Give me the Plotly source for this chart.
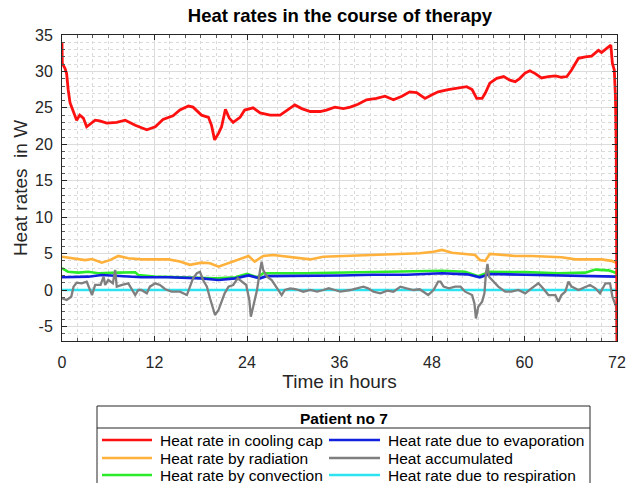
import plotly.graph_objects as go

# ---------------- data ----------------
t_cap = [0, 0.04, 0.4, 0.6, 0.8, 1.04, 1.47, 1.9, 2.3, 2.77, 3.2, 4.3, 4.9, 5.8, 7.1, 8.2, 9.5, 11.0,
         12.1, 13.1, 14.4, 15.3, 16.4, 17.0, 18.1, 19.0, 19.4, 19.8, 20.3, 20.7, 21.2, 21.7, 22.2, 23.1,
         23.7, 24.8, 25.7, 27.0, 28.3, 29.2, 30.2, 31.1, 32.2, 33.5, 34.3, 35.4, 36.5, 37.4, 38.4, 39.5,
         40.8, 41.9, 43.0, 44.1, 45.1, 46.0, 47.1, 48.0, 48.8, 50.1, 51.4, 52.5, 53.2, 53.8, 54.5, 54.9,
         55.5, 56.4, 57.3, 58.1, 58.8, 59.4, 60.1, 60.7, 61.4, 62.2, 63.1, 64.0, 64.8, 65.5, 66.1, 67.0,
         67.9, 68.7, 69.6, 70.0, 70.7, 71.2, 71.4, 71.65, 71.8, 71.9, 72.0]
cooling_cap = [33.9, 31.1, 30.4, 29.7, 27.5, 25.7, 24.5, 23.3, 24.0, 23.6, 22.4, 23.3, 23.2, 22.9, 23.0, 23.3, 22.6, 22.0,
               22.4, 23.4, 23.9, 24.7, 25.25, 25.1, 24.0, 23.7, 22.6, 20.6, 21.5, 22.4, 24.8, 23.6, 23.0, 23.7,
               24.7, 25.0, 24.3, 24.0, 24.0, 24.7, 25.4, 24.9, 24.5, 24.5, 24.7, 25.1, 24.9, 25.1, 25.5, 26.1,
               26.3, 26.6, 26.1, 26.6, 27.2, 27.1, 26.3, 26.8, 27.2, 27.5, 27.7, 27.9, 27.5, 26.3, 26.3, 27.0,
               28.4, 29.05, 29.3, 28.8, 28.6, 29.05, 29.8, 30.1, 29.7, 29.1, 29.3, 29.4, 29.2, 29.3, 30.2, 31.8,
               32.0, 32.1, 32.9, 32.6, 33.2, 33.6, 31.1, 30.2, 26.5, 19.2, -7.5]

t_rad = [0, 1.7, 3.0, 3.9, 5.15, 6.2, 7.3, 8.6, 10.3, 12.1, 13.8, 15.3, 16.6, 18.1, 19.2, 20.3, 21.6, 22.9,
         24.2, 25.0, 26.1, 27.4, 29.2, 30.9, 32.2, 33.9, 36.1, 38.2, 40.4, 42.6, 44.7, 46.4, 48.2, 49.3,
         50.6, 52.3, 53.6, 54.2, 54.9, 55.5, 57.0, 58.8, 60.9, 63.1, 64.8, 66.6, 68.3, 70.0, 71.3, 72.0]
radiation = [4.57, 4.35, 4.1, 4.25, 3.75, 4.1, 4.67, 4.35, 4.2, 4.2, 4.2, 3.9, 3.45, 3.75, 3.67, 3.2, 3.67, 4.2,
             4.67, 3.9, 4.67, 4.8, 4.57, 4.43, 4.2, 4.57, 4.67, 4.7, 4.8, 4.95, 5.04, 5.04, 5.26, 5.5,
             5.12, 4.95, 4.8, 4.12, 4.0, 4.95, 4.8, 4.67, 4.67, 4.57, 4.5, 4.2, 4.2, 4.2, 4.0, 3.7]

t_conv = [0, 0.8, 2.1, 3.4, 4.7, 6.0, 7.3, 9.5, 9.9, 12.0, 16.0, 20.0, 22.5, 24.0, 25.3, 26.1, 31.5, 36.1,
          40.4, 44.7, 49.3, 52.3, 54.0, 55.5, 60.1, 64.4, 67.9, 69.2, 70.9, 72.0]
convection = [3.0, 2.5, 2.38, 2.5, 2.3, 2.3, 2.38, 2.43, 2.05, 1.85, 1.7, 1.6, 1.75, 2.2, 1.74, 2.3, 2.3, 2.38,
              2.45, 2.6, 2.65, 2.5, 1.9, 2.5, 2.45, 2.3, 2.38, 2.8, 2.7, 2.3]

t_evap = [0, 1.7, 3.4, 5.15, 6.8, 8.6, 10.3, 13.8, 16.4, 18.1, 20.3, 22.5, 24.2, 25.7, 26.5, 31.7, 36.1, 40.4,
          44.7, 49.3, 52.6, 54.2, 55.5, 60.1, 64.4, 68.7, 71.3, 72.0]
evaporation = [1.74, 1.74, 1.83, 2.05, 1.95, 1.9, 1.74, 1.74, 1.6, 1.6, 1.37, 1.6, 2.0, 1.6, 1.9, 1.9, 2.0, 2.1,
               2.1, 2.3, 2.15, 1.74, 2.2, 2.1, 2.0, 2.0, 1.9, 1.83]

t_acc = [0, 0.6, 1.2, 1.5, 1.9, 2.55, 3.2, 3.6, 3.9, 4.3, 5.0, 5.4, 5.6, 6.0, 6.6, 6.9, 7.1, 7.8, 8.6, 9.5,
         9.9, 10.3, 11.0, 11.4, 12.1, 12.7, 13.4, 14.2, 15.3, 16.2, 16.6, 17.0, 17.5, 17.9, 18.3, 18.8, 19.2,
         19.5, 19.85, 20.3, 20.7, 21.1, 21.6, 22.2, 22.8, 23.3, 23.9, 24.3, 24.5, 24.8, 25.3, 25.7, 25.9,
         26.1, 26.6, 27.2, 27.8, 28.5, 28.9, 29.6, 30.4, 31.3, 32.2, 33.1, 33.9, 34.6, 35.4, 36.1, 37.4,
         38.2, 39.1, 39.7, 40.4, 41.3, 42.2, 43.0, 43.9, 44.7, 45.6, 46.4, 47.1, 47.5, 48.2, 48.8, 49.1,
         49.5, 50.2, 51.0, 51.7, 52.3, 53.2, 53.5, 53.7, 54.0, 54.5, 54.8, 55.0, 55.2, 55.4, 56.0, 56.6,
         57.5, 58.3, 59.2, 60.1, 60.9, 61.8, 62.4, 63.1, 64.0, 64.4, 64.8, 65.3, 65.7, 66.1, 67.0, 67.9,
         68.5, 69.2, 69.8, 70.5, 71.1, 71.4, 71.9, 72.0]
accumulated = [-1.14, -1.37, -0.92, 0.46, 1.0, 0.92, 1.14, 0.23, -0.69, 0.69, 0.69, 1.83, 0.69, 1.37, 0.92, 2.75, 0.46, 0.69, 0.92, -0.69,
               0.0, 0.0, -0.46, 0.46, 0.92, 0.69, 0.1, -0.23, -0.23, -0.69, 0.46, 1.6, 2.3, 2.5, 1.37, 0.46, -1.14,
               -2.3, -3.43, -2.75, -1.6, -0.46, 0.46, 0.69, 1.6, 1.14, 0.69, -1.37, -3.66, -2.3, 0.0, 2.75, 3.9,
               2.75, 1.83, 1.37, 0.46, -0.69, 0.0, 0.23, 0.1, -0.23, 0.0, -0.23, 0.0, 0.23, 0.0, -0.23, 0.0,
               0.23, 0.46, 0.23, -0.23, -0.46, -0.1, -0.23, 0.46, 0.23, 0.0, 0.1, -0.46, -0.69, 0.0, 1.14, 1.14,
               0.46, 0.23, 0.46, 0.46, -0.23, -0.69, -1.83, -3.9, -2.3, -1.6, -0.46, 2.3, 3.57, 1.83, 1.14, 0.46,
               -0.23, -0.23, 0.0, -0.46, 0.23, 0.92, 0.23, -0.69, -0.69, -1.6, -0.69, -0.23, 1.14, 0.46, 0.0, 0.46,
               0.69, 0.23, -0.46, 0.92, 0.92, -0.92, -2.3, -7.5]

t_resp = [0, 72]
respiration = [0.0, 0.0]

x_ticks = [0, 12, 24, 36, 48, 60, 72]
y_ticks = [-5, 0, 5, 10, 15, 20, 25, 30, 35]

legend_title = "Patient no 7"
names = ["Heat rate in cooling cap", "Heat rate by radiation", "Heat rate by convection",
         "Heat rate due to evaporation", "Heat accumulated", "Heat rate due to respiration"]
colors = ["#FF1010", "#FFB13B", "#2BEB2B", "#1020DC", "#7F7F7F", "#2EE3F0"]

series_t = [t_cap, t_rad, t_conv, t_evap, t_acc, t_resp]
series_v = [cooling_cap, radiation, convection, evaporation, accumulated, respiration]

# ---------------- figure ----------------
W, H = 630, 483
L, R, T, B = 62, 13, 35, 142
pw, ph = W - L - R, H - T - B

FONT = "Liberation Sans, Arial, sans-serif"
fig = go.Figure()
widths = [2.8, 2.6, 2.6, 2.6, 2.3, 2.6]
for i in [2, 3, 1, 5, 4, 0]:
    fig.add_trace(go.Scatter(x=series_t[i], y=series_v[i], mode="lines", name=names[i],
                             line=dict(color=colors[i], width=widths[i]), showlegend=False))

axis_common = dict(showline=True, linecolor="#262626", linewidth=1, mirror="allticks",
                   ticks="inside", ticklen=5, tickcolor="#262626", automargin=False,
                   showgrid=True, gridcolor="#DCDCDC", gridwidth=1, zeroline=False,
                   tickfont=dict(family=FONT, size=16, color="#262626"))

fig.update_xaxes(range=[0, 72], tickvals=x_ticks, ticktext=[str(v) for v in x_ticks],
                 ticklabelstandoff=7,
                 minor=dict(dtick=2, tick0=0, showgrid=True, gridcolor="#DADADA", griddash="dot",
                            ticks="inside", ticklen=3, tickcolor="#555555"),
                 title=dict(text="Time in hours", font=dict(family=FONT, size=19, color="#262626"), standoff=4),
                 **axis_common)
fig.update_yaxes(range=[-7, 35], tickvals=y_ticks, ticktext=[str(v) for v in y_ticks],
                 ticklabelstandoff=5,
                 minor=dict(dtick=1, tick0=0, showgrid=True, gridcolor="#DADADA", griddash="dot",
                            ticks="inside", ticklen=3, tickcolor="#555555"),
                 title=dict(text="Heat rates \u00a0in W", font=dict(family=FONT, size=19, color="#262626"), standoff=2),
                 **axis_common)

# ---------------- manual legend ----------------
def px2x(px):
    return (px - L) / pw

def py2y(py):
    return (H - B - py) / ph

shapes = []
annotations = []
box_l, box_r, box_t, box_b = 97, 590, 406, 500
shapes.append(dict(type="rect", xref="paper", yref="paper", x0=px2x(box_l), x1=px2x(box_r),
                   y0=py2y(box_b), y1=py2y(box_t), line=dict(color="#262626", width=1), fillcolor="white",
                   layer="above"))
shapes.append(dict(type="line", xref="paper", yref="paper", x0=px2x(box_l), x1=px2x(box_r),
                   y0=py2y(428), y1=py2y(428), line=dict(color="#262626", width=1), layer="above"))
annotations.append(dict(text="<b>" + legend_title + "</b>", xref="paper", yref="paper",
                        x=px2x((box_l + box_r) / 2), y=py2y(418), xanchor="center", yanchor="middle",
                        showarrow=False, font=dict(family=FONT, size=15.5, color="black")))
rows_y = [440, 458, 475]
cols = [(102, 152, 158), (329, 380, 386)]
for i, nm in enumerate(names):
    c = i // 3
    r = i % 3
    x0, x1, xt = cols[c]
    yy = rows_y[r]
    shapes.append(dict(type="line", xref="paper", yref="paper", x0=px2x(x0), x1=px2x(x1),
                       y0=py2y(yy), y1=py2y(yy), line=dict(color=colors[i], width=2.4), layer="above"))
    annotations.append(dict(text=nm, xref="paper", yref="paper", x=px2x(xt), y=py2y(yy),
                            xanchor="left", yanchor="middle", showarrow=False,
                            font=dict(family=FONT, size=15.5, color="black")))

fig.update_layout(
    width=W, height=H,
    margin=dict(l=L, r=R, t=T, b=B, pad=0, autoexpand=False),
    paper_bgcolor="white", plot_bgcolor="white",
    title=dict(text="<b>Heat rates in the course of therapy</b>", x=(L + px2x(340) * pw) / W,
               xanchor="center", y=1 - 16 / H, yanchor="middle",
               font=dict(family=FONT, size=18.5, color="black")),
    shapes=shapes, annotations=annotations, showlegend=False,
)

fig.write_html("out.html", config={"displayModeBar": False, "staticPlot": True},
               post_script="document.body.style.margin='0';document.body.style.padding='0';"
                           "document.body.style.overflow='hidden';")
